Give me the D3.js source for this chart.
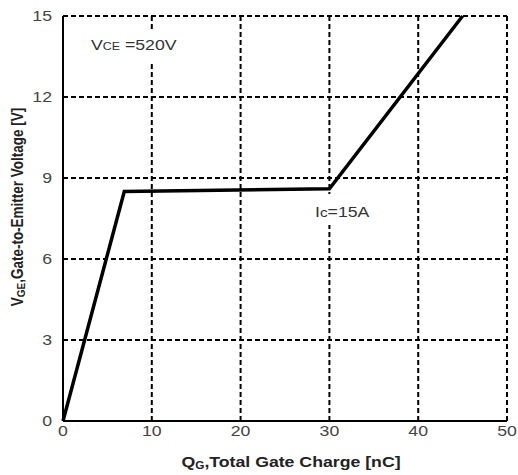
<!DOCTYPE html>
<html><head><meta charset="utf-8">
<script src="https://cdn.jsdelivr.net/npm/d3@7"></script>
<style>body{margin:0;background:#fff}</style>
</head><body>
<script>
const qg = [0, 6.9, 30, 45];
const vge = [0, 8.5, 8.6, 15];
const xTicks = [0, 10, 20, 30, 40, 50];
const yTicks = [0, 3, 6, 9, 12, 15];

const W = 518, H = 475;
const m = {l: 63, r: 11, t: 16, b: 54};
const SX = 1.18; // horizontal stretch of text seen in reference
const svg = d3.select("body").append("svg").attr("width", W).attr("height", H);
const x = d3.scaleLinear().domain([0, 50]).range([m.l, W - m.r]);
const y = d3.scaleLinear().domain([0, 15]).range([H - m.b, m.t]);
const font = "Arial, 'Liberation Sans', sans-serif";

// grid (dashed), including top and right border
const g = svg.append("g");
xTicks.filter(d => d > 0).forEach(d => {
  g.append("line").attr("x1", x(d)).attr("x2", x(d)).attr("y1", y(0)).attr("y2", y(15))
   .attr("stroke", "#000").attr("stroke-width", 2).attr("stroke-dasharray", "5,3");
});
yTicks.filter(d => d > 0).forEach(d => {
  g.append("line").attr("x1", x(0)).attr("x2", x(50)).attr("y1", y(d)).attr("y2", y(d))
   .attr("stroke", "#000").attr("stroke-width", 2).attr("stroke-dasharray", "5,3");
});

// solid left and bottom axes
svg.append("line").attr("x1", x(0)).attr("x2", x(0)).attr("y1", y(0)).attr("y2", y(15))
  .attr("stroke", "#000").attr("stroke-width", 2);
svg.append("line").attr("x1", x(0)).attr("x2", x(50)).attr("y1", y(0)).attr("y2", y(0))
  .attr("stroke", "#000").attr("stroke-width", 2);

// tick labels
xTicks.forEach(d => {
  svg.append("text").attr("transform", `translate(${x(d)},${y(0) + 15}) scale(${SX},1)`)
    .attr("text-anchor", "middle").attr("font-family", font).attr("font-size", 15)
    .attr("fill", "#444").text(d);
});
yTicks.forEach(d => {
  svg.append("text").attr("transform", `translate(${x(0) - 11},${y(d) + 5}) scale(${SX},1)`)
    .attr("text-anchor", "end").attr("font-family", font).attr("font-size", 15)
    .attr("fill", "#444").text(d);
});

// white patches behind annotations (they interrupt the gridlines)
svg.append("rect").attr("x", 88).attr("y", 29).attr("width", 90).attr("height", 32).attr("fill", "#fff");
svg.append("rect").attr("x", 312).attr("y", 194).attr("width", 64).attr("height", 31).attr("fill", "#fff");

// curve
const pts = qg.map((d, i) => [d, vge[i]]);
svg.append("path").datum(pts)
  .attr("d", d3.line().x(d => x(d[0])).y(d => y(d[1])))
  .attr("fill", "none").attr("stroke", "#000").attr("stroke-width", 3.5)
  .attr("stroke-linejoin", "miter");

// annotations
const t1 = svg.append("text").attr("transform", `translate(91,50) scale(${SX},1)`)
  .attr("font-family", font).attr("font-size", 15).attr("fill", "#333");
t1.append("tspan").text("V");
t1.append("tspan").attr("font-size", 10.5).text("CE");
t1.append("tspan").text(" =520V");
const t2 = svg.append("text").attr("transform", `translate(315,217) scale(${SX},1)`)
  .attr("font-family", font).attr("font-size", 15).attr("fill", "#333");
t2.append("tspan").text("I");
t2.append("tspan").attr("font-size", 13).text("c");
t2.append("tspan").text("=15A");

// axis titles
const xt = svg.append("text").attr("transform", `translate(291,467) scale(${SX},1)`)
  .attr("text-anchor", "middle").attr("font-family", font).attr("font-size", 15)
  .attr("font-weight", "bold").attr("fill", "#222");
xt.append("tspan").text("Q");
xt.append("tspan").attr("font-size", 10).attr("dy", 2).text("G");
xt.append("tspan").attr("dy", -2).text(",Total Gate Charge [nC]");

const yt = svg.append("text").attr("transform", `translate(23,207) rotate(-90) scale(1,${SX})`)
  .attr("text-anchor", "middle").attr("font-family", font).attr("font-size", 13.5)
  .attr("font-weight", "bold").attr("fill", "#222");
yt.append("tspan").text("V");
yt.append("tspan").attr("font-size", 10).attr("dy", 2).text("GE");
yt.append("tspan").attr("dy", -2).text(",Gate-to-Emitter Voltage [V]");
</script>
</body></html>
